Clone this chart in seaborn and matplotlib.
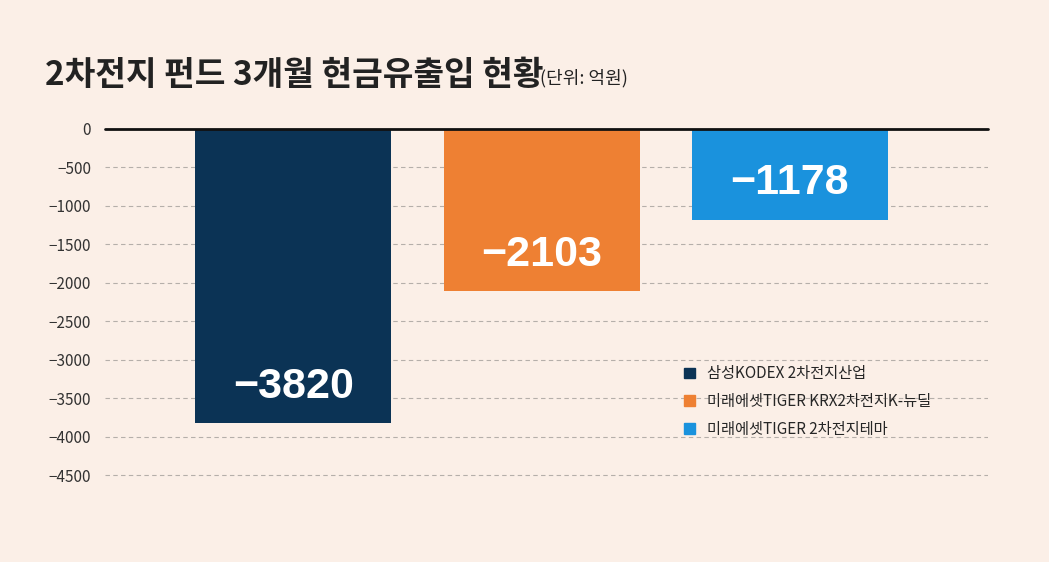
import matplotlib
matplotlib.use("Agg")
import matplotlib.pyplot as plt
import seaborn as sns
import pandas as pd
from matplotlib.patches import Patch

funds = ["삼성KODEX 2차전지산업", "미래에셋TIGER KRX2차전지K-뉴딜", "미래에셋TIGER 2차전지테마"]
flows = [-3820, -2103, -1178]
colors = ["#0B3355", "#EE8033", "#1A92DD"]
yticks = [0, -500, -1000, -1500, -2000, -2500, -3000, -3500, -4000, -4500]

bg = "#FBEFE7"
sns.set_theme(style="white")
plt.rcParams['font.family'] = ['Noto Sans CJK KR', 'DejaVu Sans']

fig = plt.figure(figsize=(10.49, 5.62), dpi=100, facecolor=bg)
ax = fig.add_axes([0.1, 0.1512, 0.842, 0.6193], facecolor=bg)
df = pd.DataFrame({"fund": funds, "flow": flows})
sns.barplot(data=df, x="fund", y="flow", hue="fund", palette=colors, width=0.79,
            dodge=False, legend=False, ax=ax, saturation=1, linewidth=0)
ax.set_xlim(-0.76, 2.80)
ax.set_ylim(-4520, 0)
ax.set_yticks(yticks)
ax.set_yticklabels([str(v).replace("-", "−") for v in yticks], fontsize=11, color="#333333")
ax.tick_params(axis="y", length=0, pad=10)
ax.set_xticks([])
ax.set_xlabel(""); ax.set_ylabel("")
for s in ax.spines.values():
    s.set_visible(False)
for v in yticks[1:]:
    ax.axhline(v, color="#B5AFAA", lw=0.8, ls=(0, (4, 3)), zorder=0)
ax.axhline(0, color="#111111", lw=2, zorder=5, clip_on=False)
for i, v in enumerate(flows):
    ax.text(i, v + 470, str(v).replace("-", "−"), ha="center", va="center",
            color="white", fontsize=31, fontweight="bold", family="Liberation Sans")

handles = [Patch(color=c) for c in colors]
ax.legend(handles, funds, loc="upper left", bbox_to_anchor=(0.64, 0.36), frameon=False,
          fontsize=11, handlelength=0.7, handleheight=0.7, labelspacing=0.7)

fig.text(0.043, 0.865, "2차전지 펀드 3개월 현금유출입 현황", fontsize=24, fontweight="bold",
         color="#222222", va="center")
fig.text(0.515, 0.86, "(단위: 억원)", fontsize=13, color="#222222", va="center")
fig.savefig("out.png", dpi=100, facecolor=bg)
